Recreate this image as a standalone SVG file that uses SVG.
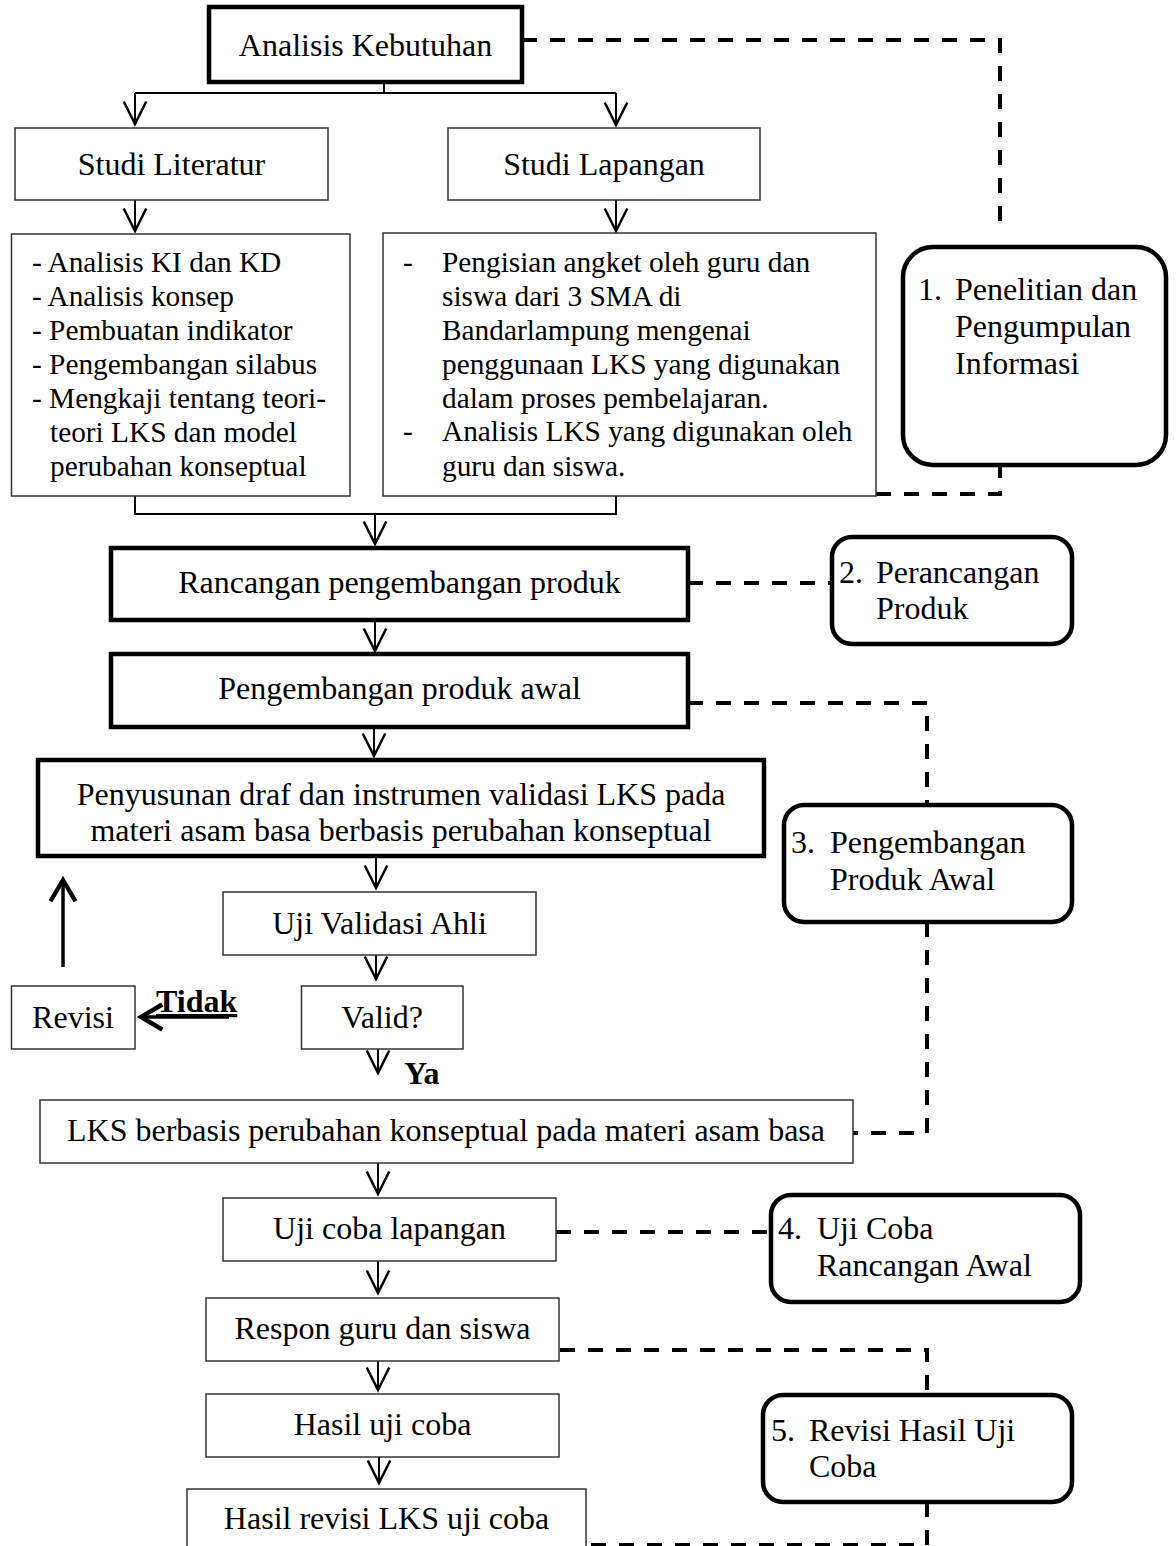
<svg xmlns="http://www.w3.org/2000/svg" width="1176" height="1546" viewBox="0 0 1176 1546">
<style>
text{font-family:"Liberation Serif","Times New Roman",serif;fill:#000}
.t{font-size:32px}
.m{text-anchor:middle}
.d{font-size:29.33px}
.b{font-weight:bold}
.thin{fill:#fff;stroke:#333;stroke-width:1.5}
.thick{fill:#fff;stroke:#000;stroke-width:4.5}
.rnd{fill:#fff;stroke:#000;stroke-width:4.5}
.ln{fill:none;stroke:#000;stroke-width:2}
.lnb{fill:none;stroke:#000;stroke-width:3.5}
.dash{fill:none;stroke:#000;stroke-width:4;stroke-dasharray:15 13}
</style>
<defs>
<marker id="ah" markerUnits="userSpaceOnUse" orient="auto" markerWidth="30" markerHeight="30" refX="0" refY="0" viewBox="-20 -12 24 24" overflow="visible">
<path d="M-18,-9 L0,0 L-18,9" fill="none" stroke="#000" stroke-width="2"/>
</marker>
<marker id="ahb" markerUnits="userSpaceOnUse" orient="auto" markerWidth="30" markerHeight="30" refX="0" refY="0" viewBox="-20 -12 24 24" overflow="visible">
<path d="M-17,-10 L0,0 L-17,10" fill="none" stroke="#000" stroke-width="3.5"/>
</marker>
</defs>

<g id="connectors">
<path class="dash" d="M522,40 H1000 V225"/>
<path class="dash" d="M876,494 H1000 V465"/>
<path class="dash" d="M688,583 H832"/>
<path class="dash" d="M688,703 H927 V805"/>
<path class="dash" d="M927,922 V1133 H853"/>
<path class="dash" d="M556,1232 H771"/>
<path class="dash" d="M560,1350 H927 V1395"/>
<path class="dash" d="M927,1502 V1545 H586"/>

<path class="ln" d="M384,82 V93 M135,93 H616"/>
<path class="ln" d="M135,93 V124" marker-end="url(#ah)"/>
<path class="ln" d="M616,93 V125" marker-end="url(#ah)"/>
<path class="ln" d="M135,200 V231" marker-end="url(#ah)"/>
<path class="ln" d="M616,200 V231" marker-end="url(#ah)"/>
<path class="ln" d="M135,496 V514 H616 V496"/>
<path class="ln" d="M375,514 V544" marker-end="url(#ah)"/>
<path class="ln" d="M375,620 V651" marker-end="url(#ah)"/>
<path class="ln" d="M374,727 V756" marker-end="url(#ah)"/>
<path class="ln" d="M376,856 V888" marker-end="url(#ah)"/>
<path class="ln" d="M376,955 V979" marker-end="url(#ah)"/>
<path class="ln" d="M378,1049 V1073" marker-end="url(#ah)"/>
<path class="ln" d="M378,1163 V1194" marker-end="url(#ah)"/>
<path class="ln" d="M378,1261 V1293" marker-end="url(#ah)"/>
<path class="ln" d="M378,1361 V1390" marker-end="url(#ah)"/>
<path class="ln" d="M379,1457 V1483" marker-end="url(#ah)"/>
<path class="lnb" d="M63,967 V880" marker-end="url(#ahb)"/>
<path class="lnb" d="M229,1017 H141" marker-end="url(#ahb)"/>
</g>

<g id="n-analisis">
<rect class="thick" x="209" y="7" width="313" height="75"/>
<text class="t m" x="365.5" y="56">Analisis Kebutuhan</text>
</g>
<g id="n-studi-literatur">
<rect class="thin" x="15" y="128" width="313" height="72"/>
<text class="t m" x="171.5" y="175">Studi Literatur</text>
</g>
<g id="n-studi-lapangan">
<rect class="thin" x="448" y="128" width="312" height="72"/>
<text class="t m" x="604" y="175">Studi Lapangan</text>
</g>
<g id="n-detail-literatur">
<rect class="thin" x="11.5" y="234" width="338.5" height="262"/>
<text class="d" x="32" y="272">- Analisis KI dan KD</text>
<text class="d" x="32" y="306">- Analisis konsep</text>
<text class="d" x="32" y="340">- Pembuatan indikator</text>
<text class="d" x="32" y="374">- Pengembangan silabus</text>
<text class="d" x="32" y="408">- Mengkaji tentang teori-</text>
<text class="d" x="50" y="442">teori LKS dan model</text>
<text class="d" x="50" y="476">perubahan konseptual</text>
</g>
<g id="n-detail-lapangan">
<rect class="thin" x="383" y="233" width="493" height="263"/>
<text class="d" x="403" y="272">-</text>
<text class="d" x="442" y="272">Pengisian angket oleh guru dan</text>
<text class="d" x="442" y="306">siswa dari 3 SMA di</text>
<text class="d" x="442" y="340">Bandarlampung mengenai</text>
<text class="d" x="442" y="374">penggunaan LKS yang digunakan</text>
<text class="d" x="442" y="408">dalam proses pembelajaran.</text>
<text class="d" x="403" y="441">-</text>
<text class="d" x="442" y="441">Analisis LKS yang digunakan oleh</text>
<text class="d" x="442" y="476">guru dan siswa.</text>
</g>
<g id="n-step1">
<rect class="rnd" x="903" y="247" width="263" height="218" rx="30" ry="30"/>
<text class="t" x="918" y="300">1.</text>
<text class="t" x="955" y="300">Penelitian dan</text>
<text class="t" x="955" y="337">Pengumpulan</text>
<text class="t" x="955" y="374">Informasi</text>
</g>
<g id="n-rancangan">
<rect class="thick" x="111" y="548" width="577" height="72"/>
<text class="t m" x="399.5" y="593">Rancangan pengembangan produk</text>
</g>
<g id="n-step2">
<rect class="rnd" x="832" y="537" width="240" height="107" rx="20" ry="20"/>
<text class="t" x="839" y="583">2.</text>
<text class="t" x="876" y="583">Perancangan</text>
<text class="t" x="876" y="619">Produk</text>
</g>
<g id="n-pengembangan">
<rect class="thick" x="111" y="654" width="577" height="73"/>
<text class="t m" x="399.5" y="699">Pengembangan produk awal</text>
</g>
<g id="n-penyusunan">
<rect class="thick" x="38" y="760" width="726" height="96"/>
<text class="t m" x="401" y="805">Penyusunan draf dan instrumen validasi LKS pada</text>
<text class="t m" x="401" y="841">materi asam basa berbasis perubahan konseptual</text>
</g>
<g id="n-step3">
<rect class="rnd" x="784" y="805" width="288" height="117" rx="20" ry="20"/>
<text class="t" x="791" y="853">3.</text>
<text class="t" x="830" y="853">Pengembangan</text>
<text class="t" x="830" y="890">Produk Awal</text>
</g>
<g id="n-uji-validasi">
<rect class="thin" x="223" y="892" width="313" height="63"/>
<text class="t m" x="379.5" y="934">Uji Validasi Ahli</text>
</g>
<g id="n-revisi">
<rect class="thin" x="11.5" y="986" width="123.5" height="63"/>
<text class="t m" x="73" y="1028">Revisi</text>
</g>
<g id="n-valid">
<rect class="thin" x="301.5" y="986" width="161.5" height="63"/>
<text class="t m" x="382" y="1028">Valid?</text>
</g>
<g id="lbl-tidak">
<text class="t b" x="156" y="1012" text-decoration="underline">Tidak</text>
</g>
<g id="lbl-ya">
<text class="t b" x="404" y="1084">Ya</text>
</g>
<g id="n-lks">
<rect class="thin" x="40" y="1100" width="813" height="63"/>
<text class="t m" x="446" y="1141">LKS berbasis perubahan konseptual pada materi asam basa</text>
</g>
<g id="n-uji-coba">
<rect class="thin" x="223" y="1198" width="333" height="63"/>
<text class="t m" x="389.5" y="1239">Uji coba lapangan</text>
</g>
<g id="n-step4">
<rect class="rnd" x="771" y="1195" width="309" height="107" rx="20" ry="20"/>
<text class="t" x="778" y="1239">4.</text>
<text class="t" x="817" y="1239">Uji Coba</text>
<text class="t" x="817" y="1276">Rancangan Awal</text>
</g>
<g id="n-respon">
<rect class="thin" x="206" y="1298" width="353" height="63"/>
<text class="t m" x="382.5" y="1339">Respon guru dan siswa</text>
</g>
<g id="n-hasil">
<rect class="thin" x="206" y="1394" width="353" height="63"/>
<text class="t m" x="382.5" y="1435">Hasil uji coba</text>
</g>
<g id="n-step5">
<rect class="rnd" x="763" y="1395" width="309" height="107" rx="20" ry="20"/>
<text class="t" x="771" y="1441">5.</text>
<text class="t" x="809" y="1441">Revisi Hasil Uji</text>
<text class="t" x="809" y="1477">Coba</text>
</g>
<g id="n-hasil-revisi">
<rect class="thin" x="187" y="1489" width="399" height="80"/>
<text class="t m" x="386.5" y="1529">Hasil revisi LKS uji coba</text>
</g>
</svg>
